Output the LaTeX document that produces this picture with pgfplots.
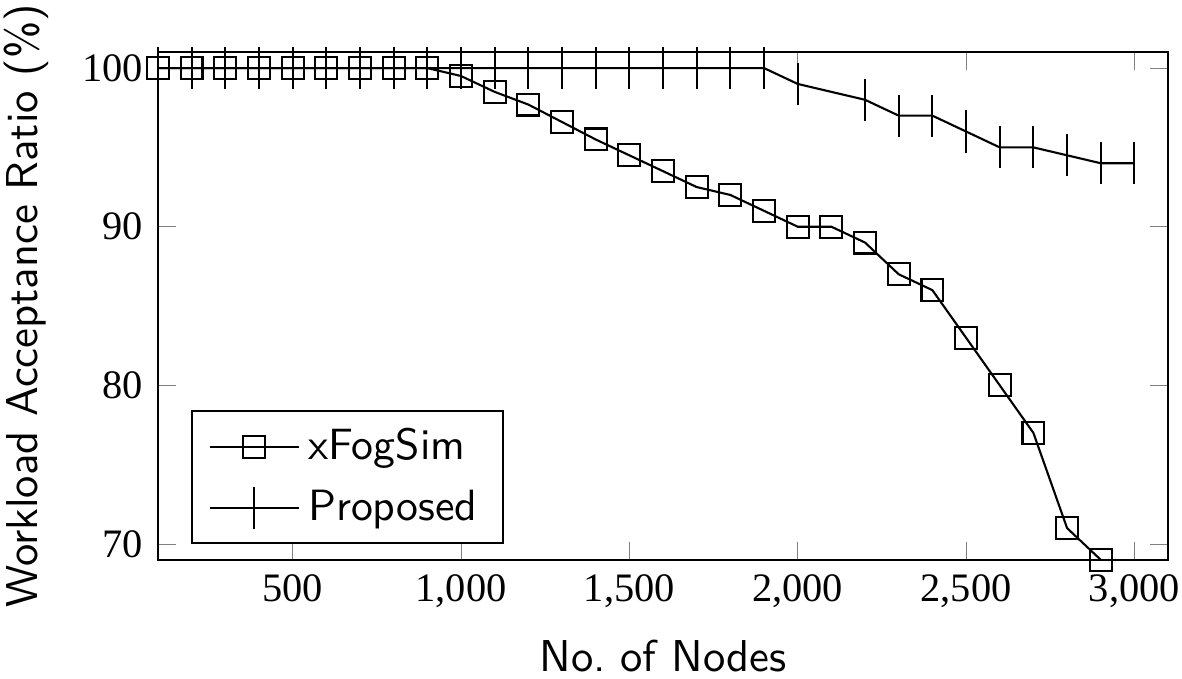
\documentclass[border=0pt]{standalone}
\usepackage{fontspec}
\setmainfont{Liberation Serif}
\usepackage{pgfplots}
\pgfplotsset{compat=1.18}
\begin{document}
\begin{tikzpicture}
\begin{axis}[
  scale only axis,
  width=240pt, height=120.6pt,
  xmin=100, xmax=3100,
  ymin=69, ymax=101,
  xtick={500,1000,1500,2000,2500,3000},
  ytick={70,80,90,100},
  /pgf/number format/assume math mode=true,
  /pgf/number format/1000 sep={,},
  ticklabel style={font=\fontsize{9.6}{11}\selectfont},
  xticklabel style={inner xsep=0.5pt},
  xlabel={No.\ of Nodes},
  ylabel={Workload Acceptance Ratio (\%)},
  label style={font=\fontsize{10.6}{12}\selectfont\sffamily},
  xlabel style={inner sep=1.5pt, at={(axis description cs:0.5,-0.2197)}, anchor=base},
  ylabel style={inner sep=1pt, at={(axis description cs:-0.103,0.5)}, anchor=south, rotate=0},
  legend style={at={(0.033,0.031)}, anchor=south west, font=\fontsize{10.4}{12}\selectfont\sffamily,
    inner xsep=4pt, inner ysep=2pt, row sep=1.7pt},
  legend cell align=left,
  every even column/.append style={column sep=5pt},
  legend image code/.code={\draw[mark repeat=2,mark phase=2,#1] plot coordinates {(0cm,0cm) (0.37cm,0cm) (0.74cm,0cm)};},
]
\addplot[black, line width=0.5pt, mark=square, mark size=2.6pt] coordinates {
(100,100) (200,100) (300,100) (400,100) (500,100) (600,100) (700,100) (800,100) (900,100)
(1000,99.5) (1100,98.5) (1200,97.7) (1300,96.6) (1400,95.5) (1500,94.5) (1600,93.5)
(1700,92.5) (1800,92.0) (1900,91.0) (2000,90.0) (2100,90.0) (2200,89.0) (2300,87.0)
(2400,86.0) (2500,83.0) (2600,80.0) (2700,77.0) (2800,71.0) (2900,69.0)
};
\addlegendentry{xFogSim}
\addplot[black, line width=0.5pt, mark=|, mark size=5pt] coordinates {
(100,100) (200,100) (300,100) (400,100) (500,100) (600,100) (700,100) (800,100) (900,100)
(1000,100) (1100,100) (1200,100) (1300,100) (1400,100) (1500,100) (1600,100) (1700,100)
(1800,100) (1900,100) (2000,99.0) (2200,98.0) (2300,97.0) (2400,97.0) (2500,96.0)
(2600,95.0) (2700,95.0) (2800,94.5) (2900,94.0) (3000,94.0)
};
\addlegendentry{Proposed}
\end{axis}
\end{tikzpicture}
\end{document}
